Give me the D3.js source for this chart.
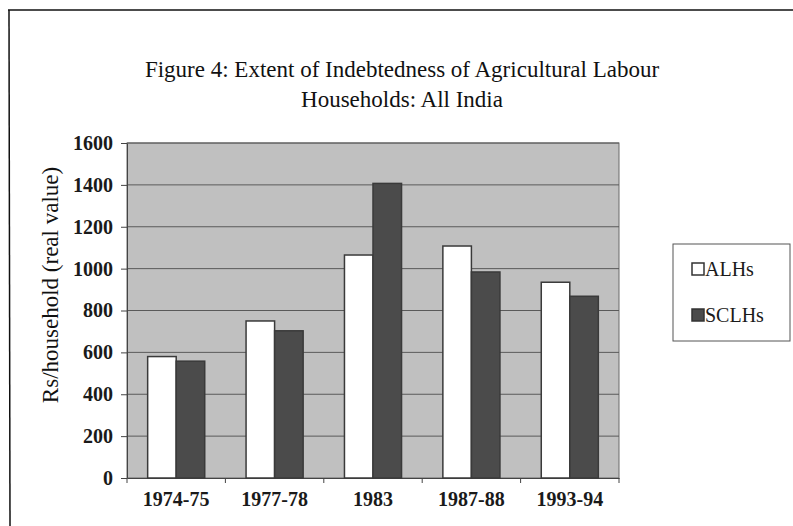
<!DOCTYPE html>
<html>
<head>
<meta charset="utf-8">
<script src="https://cdn.jsdelivr.net/npm/d3@7"></script>
<style>
  body { margin: 0; background: #fff; }
  svg { font-family: "Liberation Serif", "Times New Roman", serif; }
</style>
</head>
<body>
<div id="chart"></div>
<script>
const categories = ["1974-75", "1977-78", "1983", "1987-88", "1993-94"];
const seriesNames = ["ALHs", "SCLHs"];
const alhValues = [580, 750, 1065, 1108, 935];
const sclhValues = [558, 703, 1407, 984, 868];
const yTicks = [0, 200, 400, 600, 800, 1000, 1200, 1400, 1600];

const rows = categories.map((c, i) => ({ cat: c, ALHs: alhValues[i], SCLHs: sclhValues[i] }));
const fills = { ALHs: "#ffffff", SCLHs: "#4b4b4b" };

const W = 793, H = 526;
const plot = { left: 127, right: 619, top: 143, bottom: 478 };

const svg = d3.select("#chart").append("svg")
  .attr("width", W)
  .attr("height", H);

// page frame from the scan
svg.append("line").attr("x1", 8).attr("x2", W).attr("y1", 10).attr("y2", 10)
  .attr("stroke", "#111").attr("stroke-width", 1.5);
svg.append("line").attr("x1", 9).attr("x2", 10).attr("y1", 10).attr("y2", H)
  .attr("stroke", "#111").attr("stroke-width", 1.5);

// title
const title = svg.append("text")
  .attr("text-anchor", "middle")
  .attr("font-size", 23)
  .attr("fill", "#111");
title.append("tspan").attr("x", 402).attr("y", 77)
  .text("Figure 4: Extent of Indebtedness of Agricultural Labour");
title.append("tspan").attr("x", 402).attr("y", 107)
  .text("Households: All India");

const x0 = d3.scaleBand()
  .domain(categories)
  .range([plot.left, plot.right])
  .padding(0);
const x1 = d3.scaleBand()
  .domain(seriesNames)
  .range([x0.bandwidth() * 0.21, x0.bandwidth() * 0.79])
  .padding(0);
const y = d3.scaleLinear()
  .domain([0, 1600])
  .range([plot.bottom, plot.top]);

// plot background
svg.append("rect")
  .attr("x", plot.left).attr("y", plot.top)
  .attr("width", plot.right - plot.left).attr("height", plot.bottom - plot.top)
  .attr("fill", "#c0c0c0")
  .attr("stroke", "#6a6a6a").attr("stroke-width", 1);

// gridlines
svg.append("g")
  .selectAll("line")
  .data(yTicks.slice(1))
  .join("line")
  .attr("x1", plot.left).attr("x2", plot.right)
  .attr("y1", d => y(d)).attr("y2", d => y(d))
  .attr("stroke", "#5a5a5a").attr("stroke-width", 1);

// Y axis
const yAxis = d3.axisLeft(y)
  .tickValues(yTicks)
  .tickFormat(d3.format("d"))
  .tickSize(6)
  .tickPadding(8)
  .tickSizeOuter(0);
const yAxisEl = svg.append("g")
  .attr("transform", `translate(${plot.left},0)`)
  .call(yAxis);
yAxisEl.select(".domain").attr("stroke", "#444");
yAxisEl.selectAll("line").attr("stroke", "#444");
yAxisEl.selectAll("text")
  .attr("font-size", 20)
  .attr("font-weight", "bold")
  .attr("fill", "#1a1a1a")
  .style("font-family", "Liberation Serif, serif");

// X axis
const xAxis = d3.axisBottom(x0)
  .tickSize(0)
  .tickPadding(14);
const xAxisEl = svg.append("g")
  .attr("transform", `translate(0,${plot.bottom})`)
  .call(xAxis);
xAxisEl.select(".domain").attr("stroke", "#444");
xAxisEl.selectAll("text")
  .attr("font-size", 20)
  .attr("font-weight", "bold")
  .attr("fill", "#1a1a1a")
  .style("font-family", "Liberation Serif, serif");

// category boundary ticks
svg.append("g")
  .selectAll("line")
  .data(categories.map(c => x0(c)).concat([plot.right]))
  .join("line")
  .attr("x1", d => d).attr("x2", d => d)
  .attr("y1", plot.bottom).attr("y2", plot.bottom + 5)
  .attr("stroke", "#444");

// bars
svg.append("g")
  .selectAll("g")
  .data(rows)
  .join("g")
  .attr("transform", d => `translate(${x0(d.cat)},0)`)
  .selectAll("rect")
  .data(d => seriesNames.map(s => ({ s, v: d[s] })))
  .join("rect")
  .attr("x", d => x1(d.s))
  .attr("y", d => y(d.v))
  .attr("width", x1.bandwidth())
  .attr("height", d => y(0) - y(d.v))
  .attr("fill", d => fills[d.s])
  .attr("stroke", "#3a3a3a")
  .attr("stroke-width", 1.5);

// y label
svg.append("text")
  .attr("transform", "translate(58,285) rotate(-90)")
  .attr("text-anchor", "middle")
  .attr("font-size", 23)
  .attr("fill", "#111")
  .text("Rs/household (real value)");

// legend
const legend = svg.append("g");
legend.append("rect")
  .attr("x", 673).attr("y", 244).attr("width", 117).attr("height", 97)
  .attr("fill", "#fff").attr("stroke", "#555").attr("stroke-width", 1);
const item = legend.selectAll("g.item")
  .data(seriesNames)
  .join("g")
  .attr("class", "item")
  .attr("transform", (d, i) => `translate(692,${263 + i * 46})`);
item.append("rect")
  .attr("width", 12).attr("height", 12)
  .attr("fill", d => fills[d])
  .attr("stroke", "#333").attr("stroke-width", 1.5);
item.append("text")
  .attr("x", 13).attr("y", 13)
  .attr("font-size", 20)
  .attr("fill", "#1a1a1a")
  .text(d => d);
</script>
</body>
</html>
